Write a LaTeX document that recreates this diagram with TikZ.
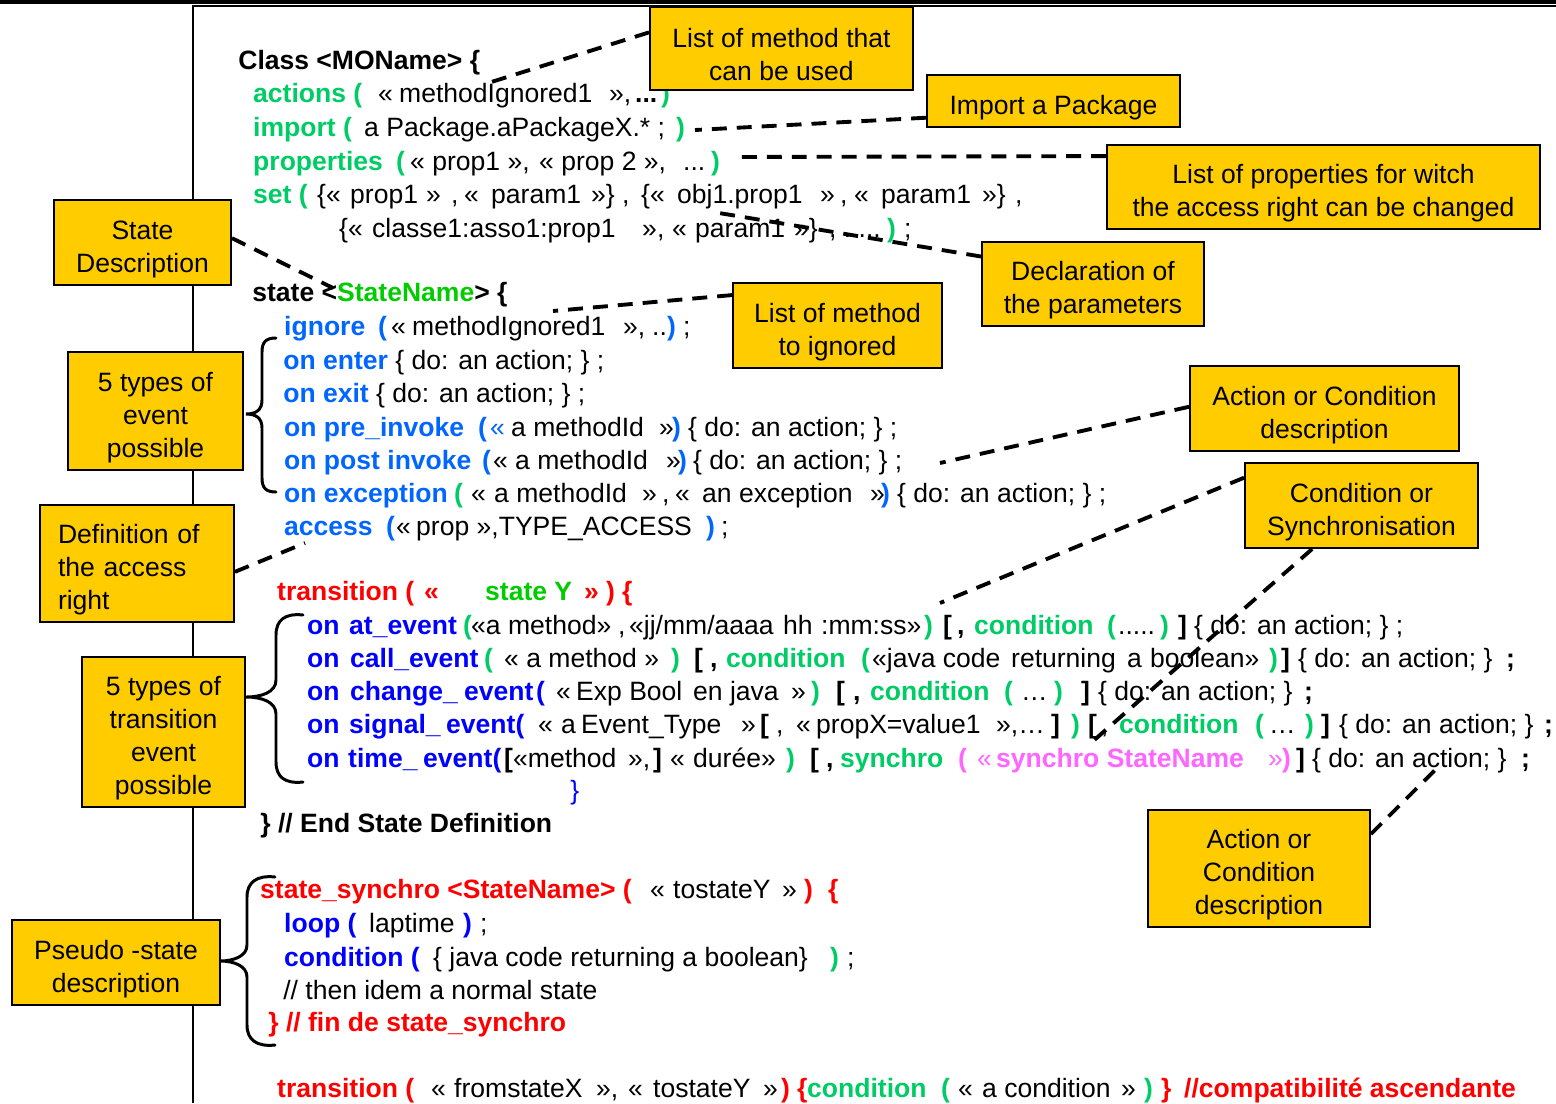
\documentclass[tikz,border=0pt]{standalone}
\usepackage{fontspec}
\setmainfont{Liberation Sans}
\usetikzlibrary{calc}

\definecolor{boxyellow}{RGB}{255,204,0}
\definecolor{kgreen}{RGB}{0,204,102}
\definecolor{sgreen}{RGB}{0,204,0}
\definecolor{kblue}{RGB}{0,102,255}
\definecolor{dblue}{RGB}{0,0,255}
\definecolor{kred}{RGB}{255,0,0}
\definecolor{kmag}{RGB}{255,102,255}

\newlength\pxu \setlength\pxu{0.02cm}
\newcommand\mycodefont{\fontsize{15.1}{18.8}\selectfont}
% keyword helpers: colour + bold
\newcommand\kG[1]{\textcolor{kgreen}{\bfseries #1}}
\newcommand\kS[1]{\textcolor{sgreen}{\bfseries #1}}
\newcommand\kB[1]{\textcolor{kblue}{\bfseries #1}}
\newcommand\kD[1]{\textcolor{dblue}{\bfseries #1}}
\newcommand\kR[1]{\textcolor{kred}{\bfseries #1}}
\newcommand\kM[1]{\textcolor{kmag}{\bfseries #1}}
\newcommand\kK[1]{{\bfseries #1}}
% put a piece of a code line at an absolute x position (in px units)
\newcommand\putx[2]{\rlap{\hspace*{#1\pxu}#2}}
% tall first line, so that note texts sit a little low in their boxes
\newcommand\noteup{\rule{0pt}{32\pxu}}

\begin{document}
\begin{tikzpicture}[x=0.02cm, y=-0.02cm,
  code/.style={anchor=base west, inner sep=0pt, font=\mycodefont},
  line/.style={anchor=base west, inner sep=0pt, font=\mycodefont},
  note/.style={draw=black, line width=1.1pt, fill=boxyellow, align=center,
    inner sep=0pt, font=\mycodefont},
  lead/.style={line width=2.2pt, dash pattern=on 8.5pt off 5.7pt},
  brace/.style={line width=1.7pt, line cap=round}]

\useasboundingbox (0,0) rectangle (1556,1103);

% page frame
\fill (0,0) rectangle (1556,4.3);
\draw[line width=1pt] (193,1103) -- (193,6) -- (1556,6);

% ---- class header ----
\node[code] (l1) at (238,69) {\kK{Class <MOName> \{}};
\node[line] (l2) at (0,102) {\putx{252}{\kG{actions (}}\putx{377}{«}\putx{398}{methodIgnored1}\putx{608}{»,}\putx{634}{\kK{...}}\putx{660}{\kG{)}}};
\node[line] (l3) at (0,136) {\putx{252}{\kG{import (}}\putx{363}{a Package.aPackageX.* ;}\putx{675}{\kG{)}}};
\node[line] (l4) at (0,170) {\putx{252}{\kG{properties}}\putx{395}{\kG{(}}\putx{409}{« prop1 »,}\putx{538}{« prop 2 »,}\putx{682}{...}\putx{710}{\kG{)}}};
\node[line] (l5) at (0,203) {\putx{252}{\kG{set (}}\putx{316}{\{«}\putx{349}{prop1}\putx{425}{»}\putx{450}{,}\putx{463}{«}\putx{490}{param1}\putx{590}{»\}}\putx{621}{,}\putx{640}{\{«}\putx{676}{obj1.prop1}\putx{819}{»}\putx{839}{,}\putx{853}{«}\putx{880}{param1}\putx{981}{»\}}\putx{1014}{,}};
\node[line] (l6) at (0,237) {\putx{338}{\{«}\putx{371}{classe1:asso1:prop1}\putx{641}{»}\putx{656}{,}\putx{671}{«}\putx{694}{param1}\putx{793}{»\}}\putx{828}{, .....}\putx{886}{\kG{)}}\putx{903}{;}};

% ---- state ----
\node[code] (l7) at (252,301) {\kK{state <}\kS{StateName}\kK{> \{}};
\node[line] (l8) at (0,335) {\putx{283}{\kB{ignore}}\putx{377}{\kB{(}}\putx{390}{«}\putx{411}{methodIgnored1}\putx{622}{»,}\putx{651}{..}\putx{666}{\kB{)}}\putx{682}{;}};
\node[code] (l9) at (283,369) {\kB{on enter} \{ do: an action; \} ;};
\node[code] (l10) at (283,402) {\kB{on exit} \{ do: an action; \} ;};
\node[line] (l11) at (0,436) {\putx{283}{\kB{on pre\_invoke}}\putx{477}{\kB{(}}\putx{489}{\textcolor{kblue}{«}}\putx{510}{a methodId}\putx{658}{»}\putx{671}{\kB{)}}\putx{687}{\{ do: an action; \} ;}};
\node[line] (l12) at (0,469) {\putx{283}{\kB{on post invoke}}\putx{481}{\kB{(}}\putx{492}{«}\putx{514}{a methodId}\putx{665}{»}\putx{677}{\kB{)}}\putx{692}{\{ do: an action; \} ;}};
\node[line] (l13) at (0,502) {\putx{283}{\kB{on exception}}\putx{453}{\kG{(}}\putx{470}{«}\putx{493}{a methodId}\putx{641}{»}\putx{661}{,}\putx{674}{«}\putx{701}{an exception}\putx{869}{»}\putx{880}{\kB{)}}\putx{896}{\{ do: an action; \} ;}};
\node[line] (l14) at (0,535) {\putx{283}{\kB{access}}\putx{385}{\kB{(}}\putx{395}{«}\putx{415}{prop »,TYPE\_ACCESS}\putx{705}{\kB{)}}\putx{720}{;}};

% ---- transition ----
\node[line] (l15) at (0,600) {\putx{276}{\kR{transition (}}\putx{423}{\kR{«}}\putx{484}{\kS{state Y}}\putx{583}{\kR{»}}\putx{605}{\kR{)}}\putx{621}{\kR{\{}}};
\node[line] (l16) at (0,634) {\putx{306}{\kD{on}}\putx{348}{\kD{at\_event}}\putx{462}{\kG{(}}\putx{470}{«a method»}\putx{617}{,}\putx{628}{«jj/mm/aaaa}\putx{782}{hh}\putx{820}{:mm:ss»}\putx{923}{\kG{)}}\putx{942}{\kK{[}}\putx{956}{\kK{,}}\putx{973}{\kG{condition}}\putx{1106}{\kG{(}}\putx{1117}{.....}\putx{1159}{\kG{)}}\putx{1177}{\kK{]}}\putx{1193}{\{ do: an action; \} ;}};
\node[line] (l17) at (0,667) {\putx{306}{\kD{on}}\putx{349}{\kD{call\_event}}\putx{483}{\kG{(}}\putx{503}{« a method »}\putx{670}{\kG{)}}\putx{693}{\kK{[}}\putx{709}{\kK{,}}\putx{725}{\kG{condition}}\putx{860}{\kG{(}}\putx{871}{«java code}\putx{1010}{returning}\putx{1126}{a}\putx{1149}{boolean»}\putx{1268}{\kG{)}}\putx{1280}{\kK{]}}\putx{1297}{\{ do: an action; \}}\putx{1505}{\kK{;}}};
\node[line] (l18) at (0,700) {\putx{306}{\kD{on}}\putx{349}{\kD{change\_}}\putx{463}{\kD{event}}\putx{535}{\kD{(}}\putx{555}{«}\putx{575}{Exp Bool}\putx{692}{en java}\putx{790}{»}\putx{810}{\kG{)}}\putx{835}{\kK{[}}\putx{852}{\kK{,}}\putx{869}{\kG{condition}}\putx{1003}{\kG{(}}\putx{1020}{…}\putx{1053}{\kG{)}}\putx{1080}{\kK{]}}\putx{1097}{\{ do: an action; \}}\putx{1303}{\kK{;}}};
\node[line] (l19) at (0,733) {\putx{306}{\kD{on}}\putx{348}{\kD{signal\_}}\putx{445}{\kD{event(}}\putx{537}{«}\putx{560}{a}\putx{580}{Event\_Type}\putx{740}{»}\putx{759}{\kK{[}}\putx{775}{,}\putx{795}{«}\putx{815}{propX=value1}\putx{995}{»,…}\putx{1050}{\kK{]}}\putx{1070}{\kG{)}}\putx{1087}{\kK{[}}\putx{1100}{,}\putx{1118}{\kG{condition}}\putx{1254}{\kG{(}}\putx{1268}{…}\putx{1304}{\kG{)}}\putx{1320}{\kK{]}}\putx{1338}{\{ do: an action; \}}\putx{1543}{\kK{;}}};
\node[line] (l20) at (0,767) {\putx{306}{\kD{on}}\putx{347}{\kD{time\_}}\putx{422}{\kD{event(}}\putx{503}{\kK{[}}\putx{512}{«method}\putx{627}{»,}\putx{652}{\kK{]}}\putx{669}{«}\putx{692}{durée»}\putx{785}{\kG{)}}\putx{809}{\kK{[}}\putx{825}{\kK{,}}\putx{839}{\kG{synchro}}\putx{957}{\kM{(}}\putx{976}{\textcolor{kmag}{«}}\putx{995}{\kM{synchro StateName}}\putx{1267}{\textcolor{kmag}{»}}\putx{1281}{\kM{)}}\putx{1295}{\kK{]}}\putx{1311}{\{ do: an action; \}}\putx{1520}{\kK{;}}};
\node[code] (l21) at (570,799) {\textcolor{dblue}{\}}};
\node[code] (l22) at (260,832) {\kK{\} // End State Definition}};

% ---- pseudo-state ----
\node[line] (l23) at (0,898) {\putx{259}{\kR{state\_synchro <StateName> (}}\putx{649}{«}\putx{672}{tostateY}\putx{781}{»}\putx{803}{\kR{)}}\putx{827}{\kR{\{}}};
\node[line] (l24) at (0,932) {\putx{283}{\kD{loop (}}\putx{368}{laptime}\putx{462}{\kD{)}}\putx{479}{;}};
\node[line] (l25) at (0,966) {\putx{283}{\kD{condition (}}\putx{432}{\{ java code returning a boolean\}}\putx{829}{\kG{)}}\putx{846}{;}};
\node[code] (l26) at (283,999) {// then idem a normal state};
\node[code] (l27) at (268,1031) {\kR{\} // fin de state\_synchro}};
\node[line] (l28) at (0,1097) {\putx{276}{\kR{transition (}}\putx{430}{«}\putx{453}{fromstateX}\putx{595}{»,}\putx{627}{«}\putx{652}{tostateY}\putx{762}{»}\putx{780}{\kR{)}}\putx{796}{\kR{\{}}\putx{806}{\kG{condition}}\putx{940}{\kG{(}}\putx{957}{«}\putx{981}{a condition}\putx{1120}{»}\putx{1143}{\kG{)}}\putx{1160}{\kR{\}}}\putx{1183}{\kR{//compatibilité ascendante}}};

% ---- braces ----
\draw[brace] (276,338) .. controls (266,338) and (262,342) .. (262,352) -- (262,400)
  .. controls (262,410) and (256,414) .. (246,414)
  .. controls (256,414) and (262,418) .. (262,428) -- (262,478)
  .. controls (262,488) and (266,492) .. (276,492);
\draw[brace] (303,615) .. controls (285,613) and (276,620) .. (276,635) -- (276,680)
  .. controls (276,692) and (262,697) .. (246,697)
  .. controls (262,697) and (276,702) .. (276,714) -- (276,762)
  .. controls (276,777) and (285,784) .. (303,782);
\draw[brace] (275,877) .. controls (257,875) and (247,882) .. (247,897) -- (247,945)
  .. controls (247,956) and (234,961) .. (220,961)
  .. controls (234,961) and (247,966) .. (247,977) -- (247,1025)
  .. controls (247,1040) and (257,1047) .. (275,1045);

% ---- notes ----
\node[note, minimum width=5.26cm, minimum height=1.66cm] (b1) at (781.5,48.5) {\noteup List of method that\\can be used};
\node[note, minimum width=5.06cm, minimum height=1.04cm] (b2) at (1053.5,101) {\noteup Import a Package};
\node[note, minimum width=8.66cm, minimum height=1.68cm] (b3) at (1323.5,187) {\noteup List of properties for witch\\the access right can be changed};
\node[note, minimum width=4.44cm, minimum height=1.68cm] (b4) at (1093,284) {\noteup Declaration of\\the parameters};
\node[note, minimum width=3.54cm, minimum height=1.70cm] (b5) at (142.5,242.5) {\noteup State\\Description};
\node[note, minimum width=4.18cm, minimum height=1.70cm] (b6) at (837.5,325.5) {\noteup List of method\\to ignored};
\node[note, minimum width=3.50cm, minimum height=2.36cm] (b7) at (155.5,411) {\noteup 5 types of\\event\\possible};
\node[note, minimum width=5.38cm, minimum height=1.70cm] (b8) at (1324.5,408.5) {\noteup Action or Condition\\description};
\node[note, minimum width=4.66cm, minimum height=1.70cm] (b9) at (1361.5,505.5) {\noteup Condition or\\Synchronisation};
\node[note, align=left, text width=3.16cm, inner xsep=0.36cm, minimum height=2.34cm] (b10) at (137,563.5) {\noteup Definition of\\the access\\right};
\node[note, minimum width=3.26cm, minimum height=3.00cm] (b11) at (163.5,732) {\noteup 5 types of\\transition\\event\\possible};
\node[note, minimum width=4.44cm, minimum height=2.34cm] (b12) at (1259,868.5) {\noteup Action or\\Condition\\description};
\node[note, minimum width=4.16cm, minimum height=1.70cm] (b13) at (116,962.5) {\noteup Pseudo -state\\description};

% ---- leader lines ----
\coordinate (ca) at (485,84);
\coordinate (cb) at (695,130);
\coordinate (cc) at (735,157);
\coordinate (cd) at (719,213);
\coordinate (ce) at (333,288);
\coordinate (cf) at (553,311);
\coordinate (cg) at (940,463);
\coordinate (ch) at (940,603);
\coordinate (ci) at (1092,742);
\coordinate (cj) at (1437,768);
\coordinate (ck) at (305,543);

\draw[lead] ($(b1.north west)!0.31!(b1.south west)$) -- (ca);
\draw[lead] ($(b2.north west)!0.81!(b2.south west)$) -- (cb);
\draw[lead] ($(b3.north west)!0.14!(b3.south west)$) -- (cc);
\draw[lead] ($(b4.north west)!0.18!(b4.south west)$) -- (cd);
\draw[lead] ($(b5.north east)!0.45!(b5.south east)$) -- (ce);
\draw[lead] ($(b6.north west)!0.15!(b6.south west)$) -- (cf);
\draw[lead] ($(b8.north west)!0.48!(b8.south west)$) -- (cg);
\draw[lead] ($(b9.north west)!0.18!(b9.south west)$) -- (ch);
\draw[lead] ($(b9.south west)!0.29!(b9.south east)$) -- (ci);
\draw[lead] ($(b12.north east)!0.21!(b12.south east)$) -- (cj);
\draw[lead] ($(b10.north east)!0.57!(b10.south east)$) -- (ck);

\end{tikzpicture}
\end{document}
